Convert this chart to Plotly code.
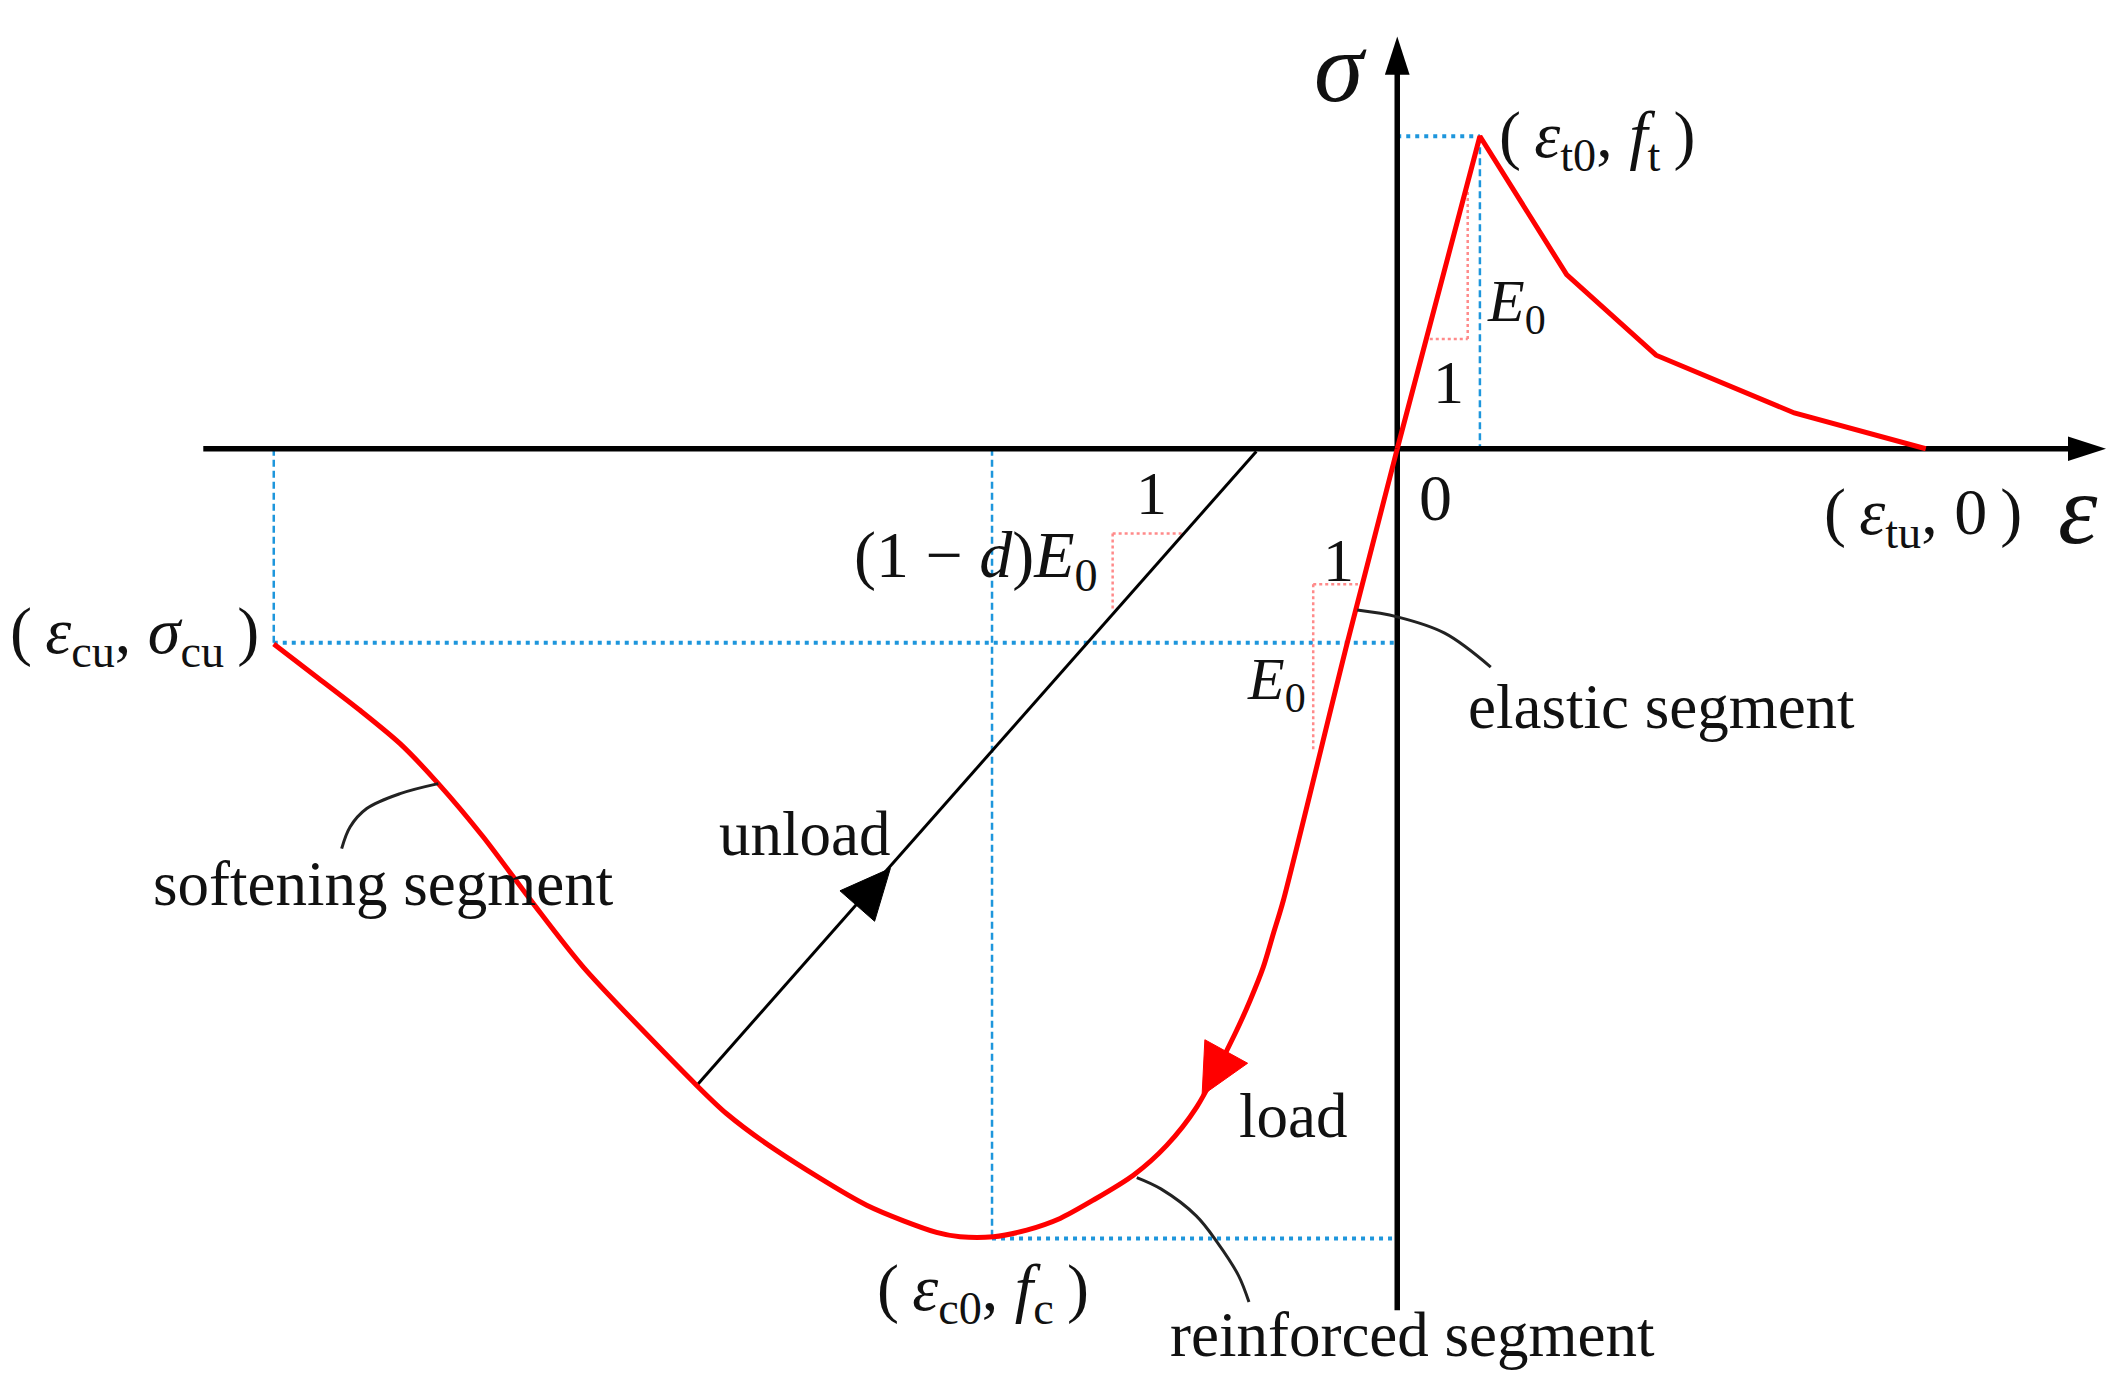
import math
import plotly.graph_objects as go

# ---- schematic data (strain eps, stress sig in drawing units) ----
tension_eps = [0, 61, 125, 191, 293, 390]
tension_sig = [0, 230.5, 128.4, 69, 26.4, 0]

comp_eps = [0, -36.7, -84, -91.4, -98.8, -108.6, -119.7, -148, -170.1, -194.7, -224.3,
            -248.8, -273.4, -298, -322.6, -340, -391.5, -459, -494.8, -516.9, -600.6,
            -637.5, -674.4, -707.6, -735.8, -765.4, -797.3, -829]
comp_sig = [0, -142.5, -333, -357.6, -382.2, -406.9, -431.5, -485.6, -513.8, -535.8, -554.2,
            -567.7, -576.3, -581.2, -581.2, -578, -558, -517, -490.5, -469.6, -382.3,
            -335.5, -286.4, -247, -217.5, -192.9, -168.3, -144]

unload_eps = [-516.9, -104]
unload_sig = [-469.6, -2]

# key points
eps_t0, f_t = 61, 230.5
eps_cu, sig_cu = -829, -143
eps_c0, f_c = -299, -582.5

# axis extents
x_axis_from, x_axis_to = -881, 515
y_axis_from, y_axis_to = -635.5, 294

# slope triangles
tri_t = dict(h=([24, 52], [81, 81]), v=([52, 52], [81, 190]))
tri_e = dict(h=([-62, -29], [-100, -100]), v=([-62, -62], [-100, -222]))
tri_u = dict(h=([-210, -157], [-62.5, -62.5]), v=([-210, -210], [-62.5, -119]))

# leader curves
lead_el_eps = [-29.5, 0, 35, 69]
lead_el_sig = [-119, -124, -136, -161]
lead_so_eps = [-707.6, -735.8, -760.4, -772.7, -778.9]
lead_so_sig = [-247, -254.4, -265.4, -279, -295]
lead_re_eps = [-192.2, -174.1, -148.3, -132.8, -117.2, -109.4]
lead_re_sig = [-537.6, -546.1, -565.8, -585.3, -609.7, -629.4]

# direction arrowheads: tip, direction, length, width
arrow_unload = dict(tip=(-374, -309.5), d=(412, 468.5), L=37, W=34)
arrow_load = dict(tip=(-144, -477), d=(-18.8, -34.2), L=37, W=36)

RED = "#FF0000"
BLUE = "#1E96DC"
PINK = "#FF8A8A"
BLACK = "#000000"

fig = go.Figure()

def line(x, y, color, width, dash="solid", shape="linear", smoothing=None):
    ln = dict(color=color, width=width, dash=dash, shape=shape)
    if smoothing is not None:
        ln["smoothing"] = smoothing
    fig.add_trace(go.Scatter(x=x, y=y, mode="lines", line=ln, hoverinfo="skip"))

def head(a, color):
    tx, ty = a["tip"]
    dx, dy = a["d"]
    n = math.hypot(dx, dy)
    ux, uy = dx / n, dy / n
    bx, by = tx - ux * a["L"], ty - uy * a["L"]
    px, py = -uy * a["W"] / 2, ux * a["W"] / 2
    fig.add_trace(go.Scatter(x=[tx, bx + px, bx - px, tx], y=[ty, by + py, by - py, ty],
                             mode="lines", fill="toself", fillcolor=color,
                             line=dict(color=color, width=1), hoverinfo="skip"))

# blue reference lines
HD = "4px,5px"
VD = "7px,4px"
line([0, eps_t0], [f_t, f_t], BLUE, 4, HD)
line([eps_t0, eps_t0], [f_t, 0], BLUE, 2.5, VD)
line([eps_cu, 0], [sig_cu, sig_cu], BLUE, 4, HD)
line([eps_cu, eps_cu], [0, sig_cu], BLUE, 2.5, VD)
line([eps_c0, eps_c0], [0, f_c], BLUE, 2.5, VD)
line([eps_c0, 0], [f_c, f_c], BLUE, 4, HD)

# slope triangles
for tri in (tri_t, tri_e, tri_u):
    line(tri["h"][0], tri["h"][1], PINK, 2.5, "3px,3px")
    line(tri["v"][0], tri["v"][1], PINK, 2.5, "3px,3px")

# axes
line([x_axis_from, x_axis_to], [0, 0], BLACK, 5.5)
line([0, 0], [y_axis_from, y_axis_to], BLACK, 5.5)
fig.add_trace(go.Scatter(x=[x_axis_to + 8, 0], y=[0, y_axis_to + 10], mode="markers",
                         marker=dict(symbol="arrow", size=40, angle=[90, 0], color=BLACK,
                                     line=dict(width=0)), hoverinfo="skip"))

# unload line
line(unload_eps, unload_sig, BLACK, 3)

# red curves
line(tension_eps, tension_sig, RED, 5)
line(comp_eps, comp_sig, RED, 5, shape="spline", smoothing=0.75)

# leader lines
line(lead_el_eps, lead_el_sig, "#222222", 3, shape="spline")
line(lead_so_eps, lead_so_sig, "#222222", 3, shape="spline")
line(lead_re_eps, lead_re_sig, "#222222", 3, shape="spline")

# direction arrows
head(arrow_unload, BLACK)
head(arrow_load, RED)

FONT = "Liberation Serif"
TS = "\u2009"
def label(x, y, text, size=62, color="#111111"):
    fig.add_annotation(x=x, y=y, text=text, showarrow=False, xanchor="center", yanchor="middle",
                       font=dict(family=FONT, size=size, color=color))

label(-42, 281, "<i>σ</i>", 100)
label(502, -45, "<i>ε</i>", 100)
label(28, -36, "0", 66)
label(148, 228, "(" + TS + "<i>ε</i><sub>t0</sub>, <i>f</i><sub>t</sub>" + TS + ")", 66)
label(88, 106, "<i>E</i><sub>0</sub>", 60)
label(38, 49, "1", 62)
label(388, -50, "(" + TS + "<i>ε</i><sub>tu</sub>, 0" + TS + ")", 66)
label(-932, -137.6, "(" + TS + "<i>ε</i><sub>cu</sub>, <i>σ</i><sub>cu</sub>" + TS + ")", 66)
label(-311, -82, "(1 − <i>d</i>)<i>E</i><sub>0</sub>", 66)
label(-181, -33, "1", 62)
label(-43, -82, "1", 62)
label(-89, -173, "<i>E</i><sub>0</sub>", 60)
label(195, -190.5, "elastic segment", 63)
label(-747.7, -320.7, "softening segment", 63)
label(-437.5, -284, "unload", 63)
label(-77, -492.5, "load", 63)
label(-306, -622, "(" + TS + "<i>ε</i><sub>c0</sub>, <i>f</i><sub>c</sub>" + TS + ")", 66)
label(11, -653.8, "reinforced segment", 63)

# figure is placed inside the page body's default 8px margin
fig.update_layout(
    width=2117, height=1383, margin=dict(l=0, r=0, t=0, b=0),
    paper_bgcolor="white", plot_bgcolor="white", showlegend=False,
    xaxis=dict(range=[-1025.1, 537.0], visible=False, fixedrange=True),
    yaxis=dict(range=[-695.0, 325.1], visible=False, fixedrange=True),
)
fig.write_html("out.html")
